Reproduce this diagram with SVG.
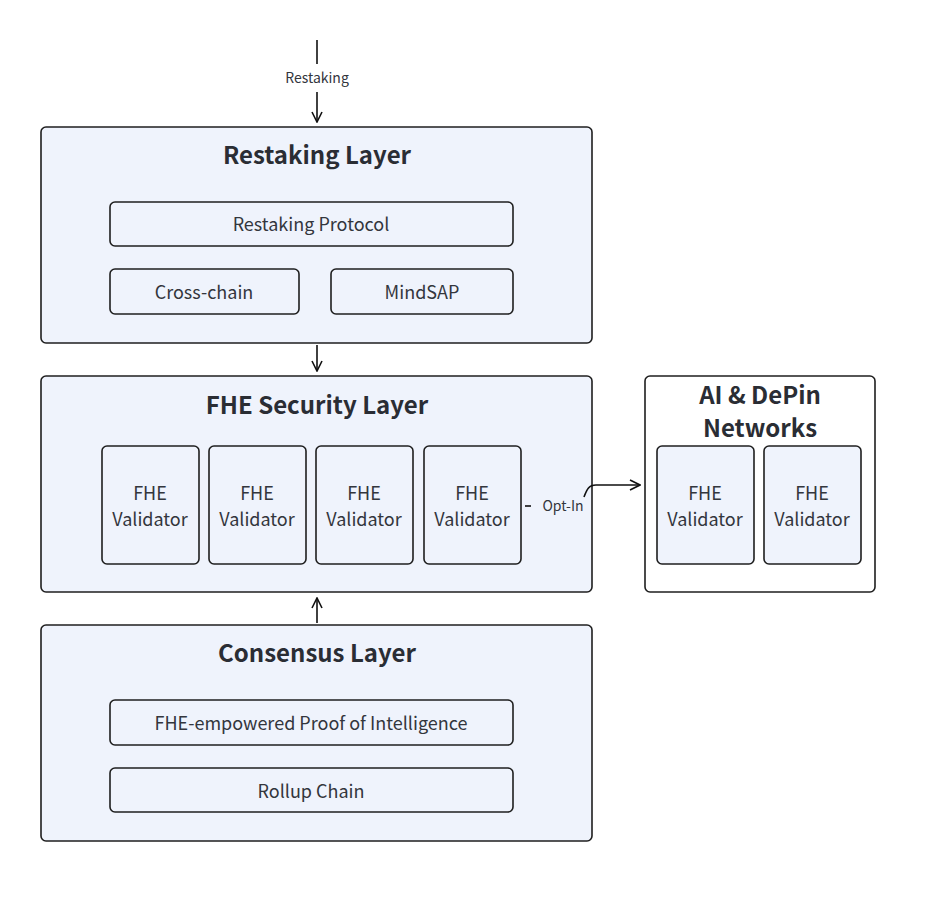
<svg xmlns="http://www.w3.org/2000/svg" width="936" height="901" viewBox="0 0 936 901">
<defs>
<style>
.layer{fill:#EFF3FC;stroke:#1f1f1f;stroke-width:1.6}
.box{fill:#EFF3FC;stroke:#1f1f1f;stroke-width:1.6}
.white{fill:#ffffff;stroke:#1f1f1f;stroke-width:1.6}
.title{font-family:"Noto Sans CJK SC","Noto Sans",sans-serif;font-weight:bold;font-size:24px;fill:#2a2d34;text-anchor:middle}
.t{font-family:"Noto Sans CJK SC","Noto Sans",sans-serif;font-size:18px;fill:#33363d;text-anchor:middle}
.s{font-family:"Noto Sans CJK SC","Noto Sans",sans-serif;font-size:14px;fill:#33363d;text-anchor:middle}
.edge{fill:none;stroke:#111;stroke-width:1.6}
</style>
<marker id="arr" viewBox="0 0 12 12" refX="11" refY="6" markerWidth="12" markerHeight="12" markerUnits="userSpaceOnUse" orient="auto">
<path d="M1,1 L11,6 L1,11" fill="none" stroke="#111" stroke-width="1.6"/>
</marker>
</defs>
<rect width="936" height="901" fill="#ffffff"/>

<g id="restaking-layer">
<rect class="layer" x="41" y="127" width="551" height="216" rx="5"/>
<text class="title" x="317" y="164">Restaking Layer</text>
</g>
<g id="restaking-protocol">
<rect class="box" x="110" y="202" width="403" height="44" rx="5"/>
<text class="t" x="311" y="231">Restaking Protocol</text>
</g>
<g id="cross-chain">
<rect class="box" x="110" y="269" width="189" height="45" rx="5"/>
<text class="t" x="204" y="299">Cross-chain</text>
</g>
<g id="mindsap">
<rect class="box" x="331" y="269" width="182" height="45" rx="5"/>
<text class="t" x="422" y="299">MindSAP</text>
</g>

<g id="fhe-layer">
<rect class="layer" x="41" y="376" width="551" height="216" rx="5"/>
<text class="title" x="317" y="414">FHE Security Layer</text>
</g>
<g id="v1"><rect class="box" x="102" y="446" width="97" height="118" rx="5"/><text class="t" x="150" y="500">FHE</text><text class="t" x="150" y="526">Validator</text></g>
<g id="v2"><rect class="box" x="209" y="446" width="97" height="118" rx="5"/><text class="t" x="257" y="500">FHE</text><text class="t" x="257" y="526">Validator</text></g>
<g id="v3"><rect class="box" x="316" y="446" width="97" height="118" rx="5"/><text class="t" x="364" y="500">FHE</text><text class="t" x="364" y="526">Validator</text></g>
<g id="v4"><rect class="box" x="424" y="446" width="97" height="118" rx="5"/><text class="t" x="472" y="500">FHE</text><text class="t" x="472" y="526">Validator</text></g>

<g id="ai-depin">
<rect class="white" x="645" y="376" width="230" height="216" rx="5"/>
<text class="title" x="760" y="404">AI &amp; DePin</text>
<text class="title" x="760" y="437">Networks</text>
</g>
<g id="v5"><rect class="box" x="657" y="446" width="97" height="118" rx="5"/><text class="t" x="705" y="500">FHE</text><text class="t" x="705" y="526">Validator</text></g>
<g id="v6"><rect class="box" x="764" y="446" width="97" height="118" rx="5"/><text class="t" x="812" y="500">FHE</text><text class="t" x="812" y="526">Validator</text></g>

<g id="consensus-layer">
<rect class="layer" x="41" y="625" width="551" height="216" rx="5"/>
<text class="title" x="317" y="662">Consensus Layer</text>
</g>
<g id="poi">
<rect class="box" x="110" y="700" width="403" height="45" rx="5"/>
<text class="t" x="311" y="730">FHE-empowered Proof of Intelligence</text>
</g>
<g id="rollup">
<rect class="box" x="110" y="768" width="403" height="44" rx="5"/>
<text class="t" x="311" y="798">Rollup Chain</text>
</g>

<g id="connectors">
<path class="edge" d="M317,40 L317,64"/>
<path class="edge" d="M317,92 L317,122" marker-end="url(#arr)"/>
<text class="s" x="317" y="83">Restaking</text>
<path class="edge" d="M317,345 L317,371" marker-end="url(#arr)"/>
<path class="edge" d="M317,623 L317,598" marker-end="url(#arr)"/>
<path class="edge" d="M525,506 L531,506"/>
<path class="edge" d="M584,497 C587,489 589,485 596,485 L640,485" marker-end="url(#arr)"/>
<text class="s" x="563" y="511">Opt-In</text>
</g>
</svg>
